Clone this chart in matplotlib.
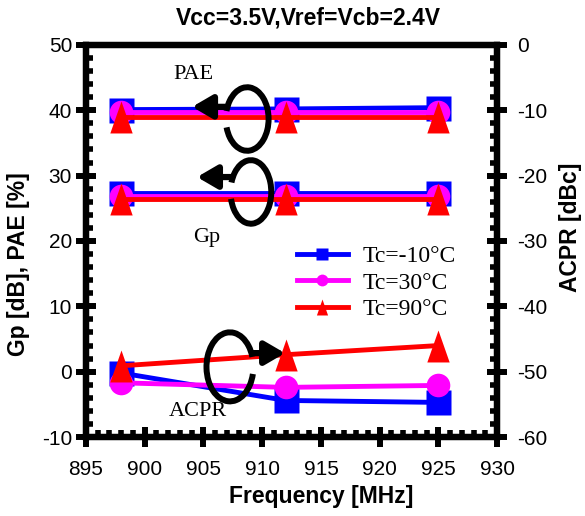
import matplotlib
matplotlib.use("Agg")
import matplotlib.pyplot as plt
from matplotlib.patches import Arc

# data
freq = [898, 912, 925]
temps = ["Tc=-10\u00b0C", "Tc=30\u00b0C", "Tc=90\u00b0C"]
colors = ["#0000ff", "#ff00ff", "#ff0000"]
pae = [[40.1, 40.2, 40.4], [39.7, 39.7, 39.7], [38.9, 38.9, 38.9]]
gp = [[27.4, 27.4, 27.4], [26.9, 26.9, 26.9], [26.4, 26.4, 26.4]]
acpr = [[-50.2, -54.4, -54.7], [-51.7, -52.4, -52.1], [-49.1, -47.4, -46.0]]

tri = [(-0.7, -1), (0.7, -1), (0, 1)]
markers = ["s", "o", tri]
msizes = [18, 17, 23]

serif = "Liberation Serif"
sans = "Liberation Sans"

plt.rcParams["axes.unicode_minus"] = False


def style_axis(ax):
    ax.tick_params(which="major", direction="inout", length=14, width=4.3,
                   labelsize=15)
    ax.tick_params(which="minor", direction="in", length=5, width=4)
    for lab in ax.get_xticklabels() + ax.get_yticklabels():
        lab.set_family(sans)
    for s in ax.spines.values():
        s.set_linewidth(4.5)


def main():
    fig = plt.figure(figsize=(5.85, 5.16), dpi=100)
    ax = fig.add_axes([0.147, 0.153, 0.703, 0.760])
    ax2 = ax.twinx()

    for i in range(3):
        kw = dict(color=colors[i], lw=3.5, marker=markers[i], ms=msizes[i],
                  mec="none", zorder=2 + i)
        ax.plot(freq, pae[i], **kw)
        ax.plot(freq, gp[i], **kw)
        ax2.plot(freq, acpr[i], label=temps[i], **kw)

    ax.set_xlim(895, 930)
    ax.set_ylim(-10, 50)
    ax2.set_ylim(-60, 0)
    ax.set_xticks(range(895, 931, 5))
    ax.set_xticks(range(895, 931, 1), minor=True)
    ax.set_yticks(range(-10, 51, 10))
    ax.set_yticks(range(-10, 51, 2), minor=True)
    ax2.set_yticks(range(-60, 1, 10))
    ax2.set_yticks(range(-60, 1, 2), minor=True)
    style_axis(ax)
    style_axis(ax2)
    ax.tick_params(axis="x", which="major", pad=9.5)
    ax.tick_params(axis="y", which="major", pad=3)
    ax2.tick_params(axis="y", which="major", pad=7)

    ax2.legend(loc="center left", bbox_to_anchor=(0.513, 0.393),
               frameon=False, prop={"family": serif, "size": 17},
               markerscale=0.5, handlelength=2.15, handletextpad=0.64,
               labelspacing=0.2, borderpad=0, borderaxespad=0)

    # circular arrows
    arcs = [((0.392, 0.811), 0.104, 0.162, -157, 158),
            ((0.401, 0.625), 0.099, 0.162, -160, 153),
            ((0.350, 0.179), 0.114, 0.176, 25, 342)]
    for c, w, h, t1, t2 in arcs:
        ax2.add_patch(Arc(c, w, h, theta1=t1, theta2=t2, lw=4.3,
                          color="black", transform=ax2.transAxes, zorder=10))
    arrows = [((0.343, 0.842), (0.258, 0.842)),
              ((0.355, 0.663), (0.270, 0.663)),
              ((0.404, 0.214), (0.484, 0.214))]
    for start, tip in arrows:
        ax2.annotate("", xy=tip, xytext=start, xycoords="axes fraction",
                     arrowprops=dict(arrowstyle="-|>,head_length=0.6,head_width=0.35",
                                     lw=4.5, color="black", mutation_scale=20,
                                     shrinkA=0, shrinkB=0), zorder=10)

    ax2.text(0.262, 0.925, "PAE", transform=ax2.transAxes, ha="center",
             va="center", family=serif, fontsize=16)
    ax2.text(0.294, 0.508, "Gp", transform=ax2.transAxes, ha="center",
             va="center", family=serif, fontsize=16)
    ax2.text(0.272, 0.064, "ACPR", transform=ax2.transAxes, ha="center",
             va="center", family=serif, fontsize=16)

    fig.text(0.527, 0.965, "Vcc=3.5V,Vref=Vcb=2.4V", ha="center", va="center",
             family=sans, weight="bold", fontsize=16.5)
    fig.text(0.549, 0.037, "Frequency [MHz]", ha="center", va="center",
             family=sans, weight="bold", fontsize=16.5)
    fig.text(0.031, 0.488, "Gp [dB], PAE [%]", ha="center", va="center",
             rotation=90, family=sans, weight="bold", fontsize=16.5)
    fig.text(0.976, 0.56, "ACPR [dBc]", ha="center", va="center",
             rotation=90, family=sans, weight="bold", fontsize=16.5)

    fig.savefig("out.png", dpi=100)


if __name__ == "__main__":
    main()
